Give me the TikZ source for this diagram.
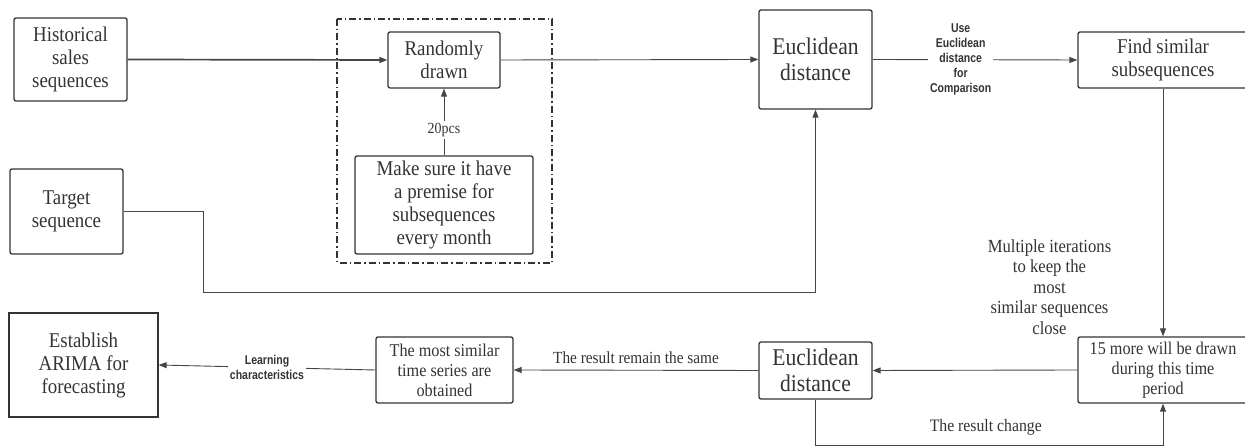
\documentclass[tikz,border=0pt]{standalone}
\usepackage{fontspec}
\setmainfont{Liberation Serif}[FakeStretch=0.9]
\newfontfamily\labfont{Liberation Sans}[FakeStretch=0.82]
\usepackage{tikz}
\usetikzlibrary{arrows.meta}

\definecolor{ink}{HTML}{333333}
\definecolor{wire}{HTML}{454545}

\begin{document}
\begin{tikzpicture}[x=1pt,y=1pt,
	box/.style={draw=ink,line width=1.3pt,rounded corners=2pt,inner sep=0pt,align=center,text=ink,font=\fontsize{21}{23}\selectfont},
	bigbox/.style={box,font=\fontsize{24}{25.5}\selectfont},
	smallbox/.style={box,font=\fontsize{18}{20}\selectfont},
	arr/.style={draw=wire,line width=0.9pt,-{Triangle[length=8pt,width=6pt]}},
	lab/.style={text=ink,align=center,font=\fontsize{18.5}{20.5}\selectfont},
	sans/.style={text=ink,align=center,fill=white,inner sep=2pt,font=\labfont\bfseries\fontsize{12.8}{15}\selectfont}]
\useasboundingbox (0,0) rectangle (1245,446);

%boxes
\node[box,minimum width=113pt,minimum height=83pt] (hist) at (70.5,386.5) {Historical\\sales\\sequences};
\node[box,minimum width=113pt,minimum height=85pt] (target) at (66.5,234.5) {Target\\sequence};
\node[box,minimum width=112pt,minimum height=56pt] (rand) at (444,386) {Randomly\\drawn};
\node[box,minimum width=178pt,minimum height=98pt] (sure) at (444,241) {Make sure it have\\a premise for\\subsequences\\every month};
\node[bigbox,minimum width=113pt,minimum height=99pt] (euc1) at (815.5,386.5) {Euclidean\\distance};
\node[box,minimum width=170pt,minimum height=56pt] (find) at (1163,386) {Find similar\\subsequences};
\node[smallbox,minimum width=170pt,minimum height=66pt] (more) at (1163,76) {15 more will be drawn\\during this time\\period};
\node[bigbox,minimum width=113pt,minimum height=57pt] (euc2) at (815.5,75.5) {Euclidean\\distance};
\node[smallbox,minimum width=137pt,minimum height=66pt] (similar) at (444.5,76) {The most similar\\time series are\\obtained};
\node[box,rounded corners=0pt,minimum width=149pt,minimum height=104pt] (arima) at (83.5,81) {Establish\\ARIMA for\\forecasting};

%frame
\draw[ink,line width=1.1pt,dash pattern=on 7pt off 3pt on 1.5pt off 3pt] (337,427) rectangle (552,183);

%turning points
\coordinate (tgtlow) at (203,154);
\coordinate (chg) at (0,1);

%edges
\draw[arr,line width=1.7pt] (hist.east) -- (rand.west);
\draw[arr] (sure.north) -- (rand.south) node[pos=0.38,fill=white,inner sep=2pt,text=ink,font=\fontsize{15.5}{17}\selectfont] {20pcs};
\draw[arr] (rand.east) -- (euc1.west);
\draw[arr] (target.east) -| (tgtlow) -| (euc1.south);
\draw[arr] (euc1.east) -- (find.west) node[pos=0.43,sans] {Use\\Euclidean\\distance\\for\\Comparison};
\draw[arr] (find.south) -- (more.north) node[pos=0.8,lab,anchor=east,xshift=-48pt] {Multiple iterations\\to keep the\\most\\similar sequences\\close};
\draw[arr] (more.west) -- (euc2.east);
\draw[arr] (euc2.west) -- (similar.east) node[midway,lab,above=3pt,font=\fontsize{17}{18}\selectfont] {The result remain the same};
\draw[arr] (euc2.south) -- (euc2.south |- chg) -| (more.south) node[pos=0.245,lab,above=6pt,font=\fontsize{17.5}{18}\selectfont] {The result change};
\draw[arr] (similar.west) -- (arima.east) node[midway,sans] {Learning\\characteristics};
\end{tikzpicture}
\end{document}
